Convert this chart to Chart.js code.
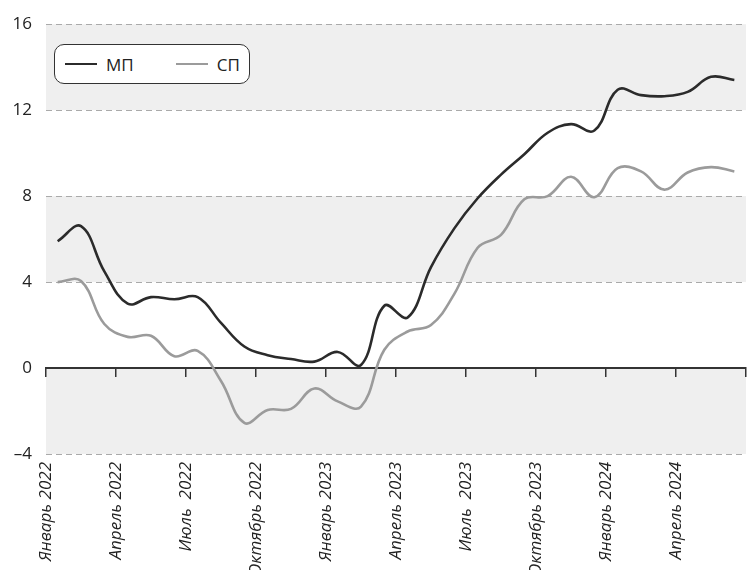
<!DOCTYPE html>
<html>
<head>
<meta charset="utf-8">
<script src="https://cdn.jsdelivr.net/npm/chart.js@4"></script>
<style>
  body { margin:0; background:#fff; }
  #wrap { position:relative; width:752px; height:570px; }
  #legend {
    position:absolute; left:54px; top:44px; width:194px; height:38px;
    border:1px solid #333; border-radius:10px; background:#fff;
    display:flex; align-items:center; font-family:'Open Sans', sans-serif; font-size:17px; color:#222;
  }
  #legend .item { display:flex; align-items:center; margin-left:10px; margin-right:32px; }
  #legend .sw { width:32px; height:0; border-top:2.5px solid; margin-right:9px; }
</style>
</head>
<body>
<div id="wrap">
  <canvas id="c" width="752" height="570"></canvas>
  <div id="legend"></div>
</div>
<script>
// DATA
const months = ['Янв22','Фев22','Мар22','Апр22','Май22','Июн22','Июл22','Авг22','Сен22','Окт22','Ноя22','Дек22',
                'Янв23','Фев23','Мар23','Апр23','Май23','Июн23','Июл23','Авг23','Сен23','Окт23','Ноя23','Дек23',
                'Янв24','Фев24','Мар24','Апр24','Май24','Июн24'];
const mpValues = [5.9, 6.6, 4.5, 3.0, 3.3, 3.2, 3.3, 2.1, 1.0, 0.6, 0.42, 0.3,
                  0.75, 0.14, 2.9, 2.35, 4.7, 6.5, 7.9, 9.0, 9.95, 10.95, 11.35, 11.05,
                  12.95, 12.7, 12.65, 12.85, 13.55, 13.4];
const spValues = [4.0, 4.05, 2.05, 1.45, 1.5, 0.55, 0.8, -0.6, -2.55, -1.95, -1.9, -0.95,
                  -1.55, -1.8, 0.85, 1.7, 2.0, 3.45, 5.6, 6.2, 7.85, 8.0, 8.9, 7.95,
                  9.3, 9.15, 8.3, 9.1, 9.35, 9.15];
const xTickLabels = ['Январь 2022','Апрель 2022','Июль  2022','Октябрь 2022','Январь 2023',
                     'Апрель 2023','Июль  2023','Октябрь 2023','Январь 2024','Апрель 2024'];
const yTicks = [-4, 0, 4, 8, 12, 16];
const shadedBands = [[-4, 0], [4, 8], [12, 16]];
const seriesNames = ['МП', 'СП'];

const FONT = "'Open Sans', sans-serif";
const toPoints = vals => vals.map((v, i) => ({ x: i + 0.5, y: v }));

// shaded horizontal bands
const bandsPlugin = {
  id: 'bands',
  beforeDraw(chart) {
    const { ctx, chartArea, scales } = chart;
    ctx.save();
    ctx.fillStyle = '#efefef';
    shadedBands.forEach(([lo, hi]) => {
      const y1 = scales.y.getPixelForValue(hi), y2 = scales.y.getPixelForValue(lo);
      ctx.fillRect(chartArea.left, y1, chartArea.right - chartArea.left, y2 - y1);
    });
    ctx.restore();
  }
};

const chart = new Chart(document.getElementById('c'), {
  type: 'line',
  data: {
    datasets: [
      { label: seriesNames[0], data: toPoints(mpValues), borderColor: '#2b2b2b', borderWidth: 2.6, pointRadius: 0, tension: 0.4, xAxisID: 'x' },
      { label: seriesNames[1], data: toPoints(spValues), borderColor: '#9b9b9b', borderWidth: 2.6, pointRadius: 0, tension: 0.4, xAxisID: 'x' }
    ]
  },
  options: {
    responsive: false,
    animation: false,
    layout: { padding: { top: 22, right: 6, left: 0, bottom: 0 } },
    plugins: { legend: { display: false }, tooltip: { enabled: false } },
    scales: {
      x: {
        type: 'linear', position: 'bottom', min: 0, max: months.length,
        grid: { display: false, drawTicks: false },
        border: { display: false },
        ticks: {
          stepSize: 3, autoSkip: false, maxRotation: 90, minRotation: 90, padding: 8,
          color: '#222', font: { family: FONT, size: 17, style: 'italic' },
          callback: v => xTickLabels[v / 3] || ''
        },
        afterFit: s => { s.height = 116; s.paddingLeft = 0; s.paddingRight = 0; }
      },
      x0: {
        type: 'linear', position: { y: 0 }, min: 0, max: months.length,
        grid: { drawOnChartArea: false, drawTicks: true, tickLength: 8, color: '#333', lineWidth: 1.5 },
        border: { display: true, color: '#333', width: 2 },
        ticks: { stepSize: 3, display: false }
      },
      y: {
        min: yTicks[0], max: yTicks[yTicks.length - 1],
        afterBuildTicks: s => { s.ticks = yTicks.map(v => ({ value: v })); },
        grid: { color: '#aaa', lineWidth: 1, drawTicks: false },
        border: { display: false, dash: [6, 4] },
        ticks: {
          padding: 14, color: '#222', font: { family: FONT, size: 17 },
          callback: v => v < 0 ? '\u2013' + Math.abs(v) : String(v)
        },
        afterFit: s => { s.width = 46; }
      }
    }
  },
  plugins: [bandsPlugin]
});

// HTML legend built from datasets
const legend = document.getElementById('legend');
chart.data.datasets.forEach(ds => {
  const item = document.createElement('div');
  item.className = 'item';
  item.innerHTML = '<span class="sw" style="border-color:' + ds.borderColor + '"></span><span>' + ds.label + '</span>';
  legend.appendChild(item);
});
</script>
</body>
</html>
